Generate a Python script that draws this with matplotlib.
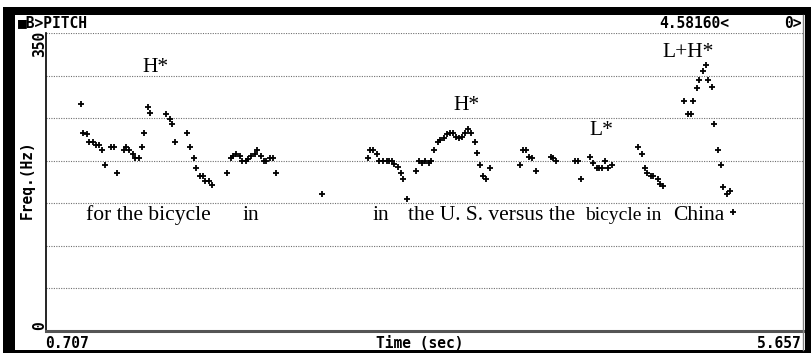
import matplotlib
matplotlib.use("Agg")
import matplotlib.pyplot as plt
from matplotlib.patches import Rectangle
from matplotlib.lines import Line2D

# pitch track (time in s, F0 in Hz)
time_s = [0.934, 0.949, 0.973, 0.990, 1.014, 1.034, 1.052, 1.073, 1.091, 1.132,
          1.150, 1.173, 1.215, 1.232, 1.250, 1.274, 1.291, 1.315, 1.333, 1.350,
          1.372, 1.389, 1.490, 1.516, 1.533, 1.549, 1.631, 1.649, 1.673, 1.690,
          1.714, 1.732, 1.749, 1.773, 1.791,
          1.889, 1.917, 1.932, 1.948, 1.974, 1.989, 2.015, 2.030, 2.048, 2.074,
          2.089, 2.113, 2.133, 2.148, 2.172, 2.189, 2.213,
          2.512,
          2.811, 2.826, 2.843, 2.869, 2.886, 2.911, 2.935, 2.952, 2.969, 2.985,
          3.011, 3.026, 3.043, 3.070, 3.126, 3.146, 3.166, 3.185, 3.211, 3.226,
          3.244, 3.268, 3.283, 3.308, 3.327, 3.347, 3.366, 3.386, 3.408, 3.425,
          3.445, 3.467, 3.486, 3.510, 3.525, 3.543, 3.565, 3.584, 3.608,
          3.806, 3.824, 3.844, 3.865, 3.885, 3.909, 4.007, 4.024, 4.040, 4.166,
          4.184, 4.205, 4.262, 4.281, 4.308, 4.323, 4.341, 4.364, 4.382, 4.408,
          4.580, 4.604, 4.622, 4.639, 4.663, 4.678, 4.707, 4.722, 4.740,
          4.881, 4.903, 4.923, 4.938, 4.962, 4.977, 5.003, 5.021, 5.036, 5.062,
          5.077, 5.103, 5.121, 5.136, 5.160, 5.180, 5.201]
freq_hz = [267, 233, 231, 222, 222, 218, 218, 213, 195, 216,
           216, 185, 213, 216, 212, 208, 203, 203, 216, 233,
           263, 256, 255, 249, 243, 222, 233, 216, 203, 191,
           182, 182, 176, 176, 171,
           185, 203, 205, 208, 205, 200, 200, 202, 205, 208,
           212, 205, 200, 200, 203, 203, 185,
           161,
           203, 213, 212, 208, 200, 200, 200, 200, 200, 196,
           193, 185, 179, 155, 188, 200, 197, 200, 197, 200,
           212, 222, 224, 227, 231, 233, 233, 228, 227, 228,
           233, 237, 233, 222, 209, 195, 182, 179, 192,
           195, 213, 212, 204, 203, 188, 204, 203, 200, 200,
           200, 179, 204, 197, 192, 191, 192, 200, 191, 195,
           216, 208, 191, 185, 182, 182, 179, 173, 170,
           270, 255, 255, 270, 285, 295, 305, 313, 295, 286,
           243, 212, 195, 169, 161, 164, 140]

t_start, t_end = 0.707, 5.657
f_max = 350
grid_hz = [50, 100, 150, 200, 250, 300, 350]

# tone labels: (text, time, Hz)
tones = [("H*", 1.335, 304), ("H*", 3.368, 260), ("L*", 4.258, 230), ("L+H*", 4.735, 322)]
# words under the track: (text, time, size)
words = [("for the bicycle", 0.969, 15.5), ("in", 1.995, 15.5), ("in", 2.845, 15.5),
         ("the U. S. versus the", 3.074, 15.5), ("bicycle in", 4.232, 14), ("China", 4.807, 15.5)]
words_hz = 130

W, H = 812, 353
fig = plt.figure(figsize=(W / 100, H / 100), dpi=100)


def px(x, y):
    return x / W, 1 - y / H


# window frame
for x0, y0, x1, y1 in [(3, 7, 812, 15), (3, 7, 15, 353), (805, 7, 812, 353), (3, 350, 812, 353)]:
    fig.add_artist(Rectangle(px(x0, y1), (x1 - x0) / W, (y1 - y0) / H,
                             transform=fig.transFigure, color="black", lw=0))
fig.add_artist(Line2D([803.5 / W] * 2, [px(0, 15)[1], px(0, 350)[1]],
                      transform=fig.transFigure, color="#808080", lw=1))

ax = fig.add_axes([46 / W, 1 - 331 / H, (803 - 46) / W, (331 - 33) / H])
ax.set_xlim(t_start, t_end)
ax.set_ylim(0, f_max)
for g in grid_hz:
    ax.axhline(g, color="#707070", lw=0.8, ls=(0, (1, 1.2)), zorder=1)
ax.plot(time_s, freq_hz, "+", color="black", ms=4, mew=1.3, zorder=3)

for s, t, f in tones:
    ax.text(t, f, s, family="Liberation Serif", fontsize=15.5, va="baseline", ha="left")
for s, t, size in words:
    ax.text(t, words_hz, s, family="Liberation Serif", fontsize=size, va="baseline", ha="left")

ax.set_xticks([])
ax.set_yticks([])
for side in ["top", "right"]:
    ax.spines[side].set_visible(False)
ax.spines["left"].set_color("black")
ax.spines["left"].set_linewidth(1.2)
ax.spines["bottom"].set_color("#555555")
ax.spines["bottom"].set_linewidth(2.2)

dos = dict(family="DejaVu Sans Mono", weight="bold", fontsize=10.5)
fig.text(*px(18, 23), "\u25a0B>PITCH", ha="left", va="center", **dos)
fig.text(*px(729, 23), "4.58160<", ha="right", va="center", **dos)
fig.text(*px(802, 23), "0>", ha="right", va="center", **dos)
fig.text(*px(40, 31), "350", ha="center", va="top", rotation=90, **dos)
fig.text(*px(40, 330), "0", ha="center", va="bottom", rotation=90, **dos)
fig.text(*px(27, 180), "Freq.(Hz)", ha="center", va="center", rotation=90, **dos)
fig.text(*px(45, 343), "0.707", ha="left", va="center", **dos)
fig.text(*px(420, 343), "Time (sec)", ha="center", va="center", **dos)
fig.text(*px(801, 343), "5.657", ha="right", va="center", **dos)

fig.savefig("out.png", dpi=100)
